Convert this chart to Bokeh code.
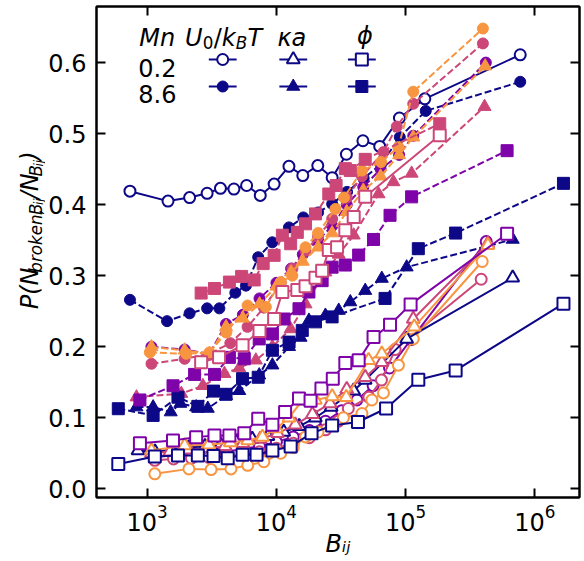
import numpy as np
from bokeh.plotting import figure
from bokeh.layouts import row
from bokeh.models import Range1d, LogAxis, LinearAxis, Label, FixedTicker, LogTicker, NumeralTickFormatter
from bokeh.embed import file_html
from bokeh.resources import INLINE

NAVY, PURPLE, PINK, ORANGE = "#0d0887", "#7e03a8", "#cc4778", "#f89540"

# ---------------- data ----------------
navy_circ_open_x = [736, 1450, 2130, 2910, 3690, 4690, 5880, 7500, 9600, 12500, 16000, 20900, 27000, 34800, 46700, 63000, 89500, 140700, 770000]
navy_circ_open_y = [0.419, 0.405, 0.410, 0.416, 0.423, 0.422, 0.427, 0.413, 0.429, 0.454, 0.441, 0.455, 0.438, 0.471, 0.490, 0.482, 0.522, 0.549, 0.611]
navy_circ_fill_x = [736, 1425, 2130, 2910, 3620, 4810, 5810, 7230, 9300, 12500, 16150, 21000, 27000, 35200, 47300, 64500, 90100, 143000, 770000]
navy_circ_fill_y = [0.266, 0.236, 0.247, 0.254, 0.254, 0.276, 0.286, 0.326, 0.347, 0.368, 0.382, 0.389, 0.401, 0.418, 0.437, 0.457, 0.495, 0.532, 0.573]
navy_tri_open_x = [850, 1150, 1550, 2100, 2800, 3700, 4900, 6500, 8600, 11400, 15000, 20000, 26500, 39600, 48600, 101800, 673000]
navy_tri_open_y = [0.054, 0.052, 0.055, 0.058, 0.060, 0.062, 0.066, 0.070, 0.074, 0.080, 0.088, 0.100, 0.115, 0.138, 0.153, 0.211, 0.297]
navy_tri_fill_x = [827, 1112, 1521, 1804, 2393, 2945, 4076, 5160, 7360, 9310, 12530, 15380, 17850, 23940, 30350, 37300, 48660, 65370, 101800, 673500]
navy_tri_fill_y = [0.115, 0.115, 0.108, 0.120, 0.115, 0.113, 0.131, 0.138, 0.160, 0.174, 0.200, 0.213, 0.237, 0.244, 0.251, 0.263, 0.279, 0.296, 0.312, 0.351]
navy_sq_open_x = [598, 1146, 1731, 2466, 3260, 4200, 5470, 7020, 9310, 12890, 18700, 26970, 42750, 70550, 125300, 243600, 1663000]
navy_sq_open_y = [0.035, 0.0455, 0.047, 0.047, 0.046, 0.043, 0.048, 0.048, 0.054, 0.0596, 0.078, 0.089, 0.094, 0.113, 0.1535, 0.1666, 0.2606]
navy_sq_fill_x = [598, 1112, 1731, 2466, 3260, 4076, 5470, 7230, 9310, 12530, 15850, 20060, 26970, 69300, 125300, 243600, 1663000]
navy_sq_fill_y = [0.1127, 0.1033, 0.129, 0.116, 0.1375, 0.133, 0.155, 0.157, 0.195, 0.2065, 0.223, 0.235, 0.242, 0.268, 0.338, 0.360, 0.430]

purple_circ_open_x = [1146, 1600, 2200, 3000, 4100, 5500, 7400, 10000, 13500, 18000, 24000, 32000, 42000, 56000, 75000, 110000, 420000]
purple_circ_open_y = [0.045, 0.047, 0.050, 0.050, 0.052, 0.056, 0.060, 0.066, 0.073, 0.082, 0.095, 0.110, 0.125, 0.145, 0.170, 0.210, 0.348]
purple_circ_fill_x = [1079, 1950, 3034, 4076, 5500, 7400, 10000, 13000, 16000, 21000, 27000, 35000, 47000, 64000, 89000, 114500, 417000]
purple_circ_fill_y = [0.200, 0.196, 0.190, 0.232, 0.245, 0.268, 0.290, 0.310, 0.330, 0.350, 0.370, 0.400, 0.425, 0.450, 0.470, 0.497, 0.600]
purple_sq_open_x = [879, 1585, 2393, 3318, 4327, 5640, 7230, 9310, 11670, 14950, 18370, 22300, 27300, 34130, 43270, 56430, 75700, 109200, 609200]
purple_sq_open_y = [0.064, 0.068, 0.0727, 0.075, 0.075, 0.078, 0.0986, 0.090, 0.108, 0.127, 0.124, 0.141, 0.155, 0.177, 0.181, 0.2135, 0.231, 0.2596, 0.359]
purple_sq_fill_x = [879, 1585, 2328, 3318, 4327, 5640, 7360, 9310, 11460, 14950, 17850, 22580, 26970, 34130, 43270, 56430, 75700, 111200, 609200]
purple_sq_fill_y = [0.125, 0.145, 0.161, 0.161, 0.185, 0.183, 0.211, 0.218, 0.239, 0.2535, 0.277, 0.293, 0.312, 0.315, 0.329, 0.351, 0.385, 0.411, 0.476]

pink_circ_open_x = [1146, 1600, 2200, 3000, 4100, 5500, 7400, 10000, 13500, 18000, 24000, 30000, 36000, 52000, 65000, 83000, 384000]
pink_circ_open_y = [0.040, 0.042, 0.043, 0.044, 0.046, 0.048, 0.052, 0.057, 0.064, 0.072, 0.083, 0.095, 0.113, 0.129, 0.153, 0.196, 0.295]
pink_circ_fill_x = [1080, 1950, 3030, 4400, 5980, 8000, 10800, 13300, 16800, 21000, 27000, 35000, 45900, 67330, 85290, 114500, 396000]
pink_circ_fill_y = [0.176, 0.183, 0.190, 0.205, 0.228, 0.255, 0.290, 0.310, 0.335, 0.355, 0.380, 0.410, 0.440, 0.474, 0.510, 0.542, 0.627]
pink_tri_open_x = [1080, 1500, 2100, 2900, 4000, 5500, 7500, 10200, 14000, 19000, 26000, 35000, 48660, 65370, 114500, 432000]
pink_tri_open_y = [0.050, 0.052, 0.055, 0.057, 0.060, 0.064, 0.070, 0.078, 0.090, 0.105, 0.120, 0.140, 0.157, 0.178, 0.239, 0.345]
pink_tri_fill_x = [827, 1836, 2700, 3963, 5160, 6930, 9310, 12890, 16800, 23940, 30350, 39630, 61690, 80390, 111200, 407700]
pink_tri_fill_y = [0.129, 0.134, 0.145, 0.162, 0.170, 0.181, 0.200, 0.225, 0.260, 0.305, 0.330, 0.357, 0.415, 0.432, 0.444, 0.538]
pink_sq_open_x = [2616, 3600, 5470, 7400, 9600, 11120, 14510, 16800, 20060, 22580, 25420, 29460, 34130, 39630, 48660, 183500]
pink_sq_open_y = [0.178, 0.185, 0.202, 0.222, 0.239, 0.277, 0.280, 0.285, 0.297, 0.307, 0.336, 0.340, 0.364, 0.3825, 0.411, 0.4976]
pink_sq_fill_x = [2616, 3318, 4327, 5380, 6730, 7900, 9600, 11120, 12890, 14510, 16800, 20060, 25420, 28960, 34130, 37300, 48660, 183500]
pink_sq_fill_y = [0.2755, 0.282, 0.291, 0.299, 0.294, 0.317, 0.3286, 0.357, 0.345, 0.361, 0.373, 0.387, 0.415, 0.427, 0.4507, 0.448, 0.4638, 0.514]

orange_circ_open_x = [1146, 2104, 3123, 4450, 6000, 8000, 10800, 13500, 16800, 21000, 27000, 33000, 45900, 54740, 67330, 87850, 114500, 391000]
orange_circ_open_y = [0.021, 0.028, 0.027, 0.028, 0.033, 0.038, 0.050, 0.058, 0.073, 0.080, 0.090, 0.100, 0.106, 0.125, 0.135, 0.174, 0.211, 0.320]
orange_circ_fill_x = [1049, 2005, 3034, 4100, 5980, 8280, 10800, 13280, 16800, 21000, 28600, 33300, 45900, 64500, 87850, 114500, 396000]
orange_circ_fill_y = [0.192, 0.190, 0.192, 0.220, 0.258, 0.256, 0.291, 0.300, 0.340, 0.360, 0.394, 0.410, 0.448, 0.460, 0.481, 0.559, 0.648]
orange_tri_open_x = [1079, 1950, 3000, 4400, 6000, 7800, 10000, 12500, 15850, 20000, 27000, 34700, 51640, 65370, 116600, 432600]
orange_tri_open_y = [0.054, 0.061, 0.062, 0.065, 0.068, 0.073, 0.085, 0.100, 0.124, 0.125, 0.130, 0.129, 0.181, 0.190, 0.228, 0.343]
orange_tri_fill_x = [1079, 1950, 3034, 4076, 5500, 7400, 10000, 13000, 16000, 21000, 27000, 35000, 47000, 64000, 89000, 114500, 412500]
orange_tri_fill_y = [0.1995, 0.195, 0.190, 0.228, 0.240, 0.260, 0.285, 0.305, 0.320, 0.340, 0.360, 0.390, 0.420, 0.440, 0.470, 0.495, 0.595]

y_ticks = [0.0, 0.1, 0.2, 0.3, 0.4, 0.5, 0.6]
legend_rows = ["0.2", "8.6"]
x_title = "B\u1d62\u2c7c"

# ---------------- geometry ----------------
W, H = 584, 561
YL_W = 45                 # width of the y-title strip
MAIN_W, MAIN_H = W - YL_W, H
FL, FT = 93, 6            # frame left / top in page pixels
FW, FH = 486, 491         # frame size
LX0, LX1 = 2.608, 6.345
Y0, Y1 = -0.0123, 0.679
FONT = "DejaVu Sans"

p = figure(width=MAIN_W, height=MAIN_H, x_axis_type="log",
           x_range=Range1d(10 ** LX0, 10 ** LX1), y_range=Range1d(Y0, Y1),
           output_backend="svg", toolbar_location=None,
           min_border_left=FL - YL_W, min_border_right=W - FL - FW,
           min_border_top=FT, min_border_bottom=MAIN_H - FT - FH)
p.grid.visible = False
p.outline_line_color = "black"
p.outline_line_width = 2
p.background_fill_color = "white"
p.border_fill_color = "white"


def px2x(px):
    return 10 ** (LX0 + (px - FL) / FW * (LX1 - LX0))


def py2y(py):
    return Y1 - (py - FT) / FH * (Y1 - Y0)


def style_axis(ax, labels=True):
    ax.axis_line_width = 2
    ax.axis_line_color = "black"
    ax.major_tick_in = 9
    ax.major_tick_out = 0
    ax.major_tick_line_width = 2
    ax.major_tick_line_color = "black"
    ax.minor_tick_line_color = None
    ax.major_label_text_font = FONT
    ax.major_label_text_color = "black"
    ax.major_label_text_font_size = "24px"
    if not labels:
        ax.major_label_text_color = None
        ax.major_label_text_font_size = "2px"
        ax.major_label_standoff = 0


xa = p.xaxis[0]
style_axis(xa)
xa.major_label_standoff = 2
xa.axis_label = x_title
xa.axis_label_text_font = FONT
xa.axis_label_text_font_style = "italic"
xa.axis_label_text_font_size = "24px"
xa.axis_label_text_color = "black"
xa.axis_label_standoff = -4

p.yaxis[0].ticker = FixedTicker(ticks=y_ticks)
p.yaxis[0].formatter = NumeralTickFormatter(format="0.0")
style_axis(p.yaxis[0])
p.yaxis[0].major_label_standoff = 10

top = LogAxis(ticker=LogTicker())
style_axis(top, labels=False)
p.add_layout(top, "above")
right = LinearAxis(ticker=FixedTicker(ticks=y_ticks))
style_axis(right, labels=False)
p.add_layout(right, "right")

series = [
    (navy_circ_open_x, navy_circ_open_y, NAVY, "circle", False),
    (navy_circ_fill_x, navy_circ_fill_y, NAVY, "circle", True),
    (purple_circ_open_x, purple_circ_open_y, PURPLE, "circle", False),
    (purple_circ_fill_x, purple_circ_fill_y, PURPLE, "circle", True),
    (pink_circ_open_x, pink_circ_open_y, PINK, "circle", False),
    (pink_circ_fill_x, pink_circ_fill_y, PINK, "circle", True),
    (orange_circ_open_x, orange_circ_open_y, ORANGE, "circle", False),
    (orange_circ_fill_x, orange_circ_fill_y, ORANGE, "circle", True),
    (navy_tri_open_x, navy_tri_open_y, NAVY, "triangle", False),
    (navy_tri_fill_x, navy_tri_fill_y, NAVY, "triangle", True),
    (pink_tri_open_x, pink_tri_open_y, PINK, "triangle", False),
    (pink_tri_fill_x, pink_tri_fill_y, PINK, "triangle", True),
    (orange_tri_open_x, orange_tri_open_y, ORANGE, "triangle", False),
    (orange_tri_fill_x, orange_tri_fill_y, ORANGE, "triangle", True),
    (navy_sq_open_x, navy_sq_open_y, NAVY, "square", False),
    (navy_sq_fill_x, navy_sq_fill_y, NAVY, "square", True),
    (purple_sq_open_x, purple_sq_open_y, PURPLE, "square", False),
    (purple_sq_fill_x, purple_sq_fill_y, PURPLE, "square", True),
    (pink_sq_open_x, pink_sq_open_y, PINK, "square", False),
    (pink_sq_fill_x, pink_sq_fill_y, PINK, "square", True),
]
SIZES = {"circle": 11, "triangle": 13, "square": 12}

for xs, ys, c, m, filled in series:
    p.line(xs, ys, line_color=c, line_width=2, line_dash="7 3" if filled else "solid")
    p.scatter(xs, ys, marker=m, size=SIZES[m], fill_color=c if filled else "white",
              line_color=c, line_width=1 if filled else 2)


def lab(fig, text, x, y, size, italic=False, angle=0.0):
    fig.add_layout(Label(x=x, y=y, text=text, text_font=FONT,
                         text_font_size=f"{size}px",
                         text_font_style="italic" if italic else "normal",
                         text_color="black", text_align="left", text_baseline="alphabetic",
                         angle=angle))


def mlab(text, px, py, size, italic=False):
    lab(p, text, px2x(px), py2y(py), size, italic)


# ---------------- legend (table) ----------------
mlab("Mn", 136, 37, 24, True)
mlab("U", 182, 37, 24, True)
mlab("0", 200, 42, 16.8)
mlab("/", 211, 37, 24)
mlab("k", 219, 37, 24, True)
mlab("B", 233, 42, 16.8, True)
mlab("T", 245, 37, 24, True)
mlab("κa", 275, 37, 24, True)
mlab("ϕ", 355, 35, 24, True)
mlab(legend_rows[0], 135, 67, 24)
mlab(legend_rows[1], 135, 93, 24)

leg_rows_py = [59, 86]
for cx, m in [(220, "circle"), (291, "triangle"), (360, "square")]:
    for r, filled in enumerate([False, True]):
        yy = py2y(leg_rows_py[r])
        p.line([px2x(cx - 14), px2x(cx + 14)], [yy, yy], line_color=NAVY, line_width=2)
        p.scatter([px2x(cx)], [yy], marker=m, size=SIZES[m],
                  fill_color=NAVY if filled else "white", line_color=NAVY,
                  line_width=1 if filled else 2)

# ---------------- y-title strip (no axes: the whole strip is frame) ----------------
ylab = figure(width=YL_W, height=H, x_range=Range1d(0, YL_W), y_range=Range1d(H, 0),
              x_axis_location=None, y_axis_location=None,
              output_backend="svg", toolbar_location=None,
              min_border_left=0, min_border_right=0, min_border_top=0, min_border_bottom=0)
ylab.grid.visible = False
ylab.outline_line_color = None
ylab.background_fill_color = "white"
ylab.border_fill_color = "white"

ang = np.pi / 2
pieces = [("P(N", 24, 0, 41.8), ("broken,", 16.8, 6, 66.0), ("B", 16.8, 6, 11.5),
          ("ij", 11.8, 9, 6.5), ("/N", 24, 0, 26.0), ("B", 16.8, 6, 11.5),
          ("ij", 11.8, 9, 6.5), (")", 24, 0, 9.4)]
yc = 346.0
for txt, sz, shift, wdt in pieces:
    lab(ylab, txt, 29 + shift, yc, sz, True, angle=ang)
    yc -= wdt

layout = row(ylab, p, spacing=0)
open("out.html", "w").write(file_html(layout, INLINE))
